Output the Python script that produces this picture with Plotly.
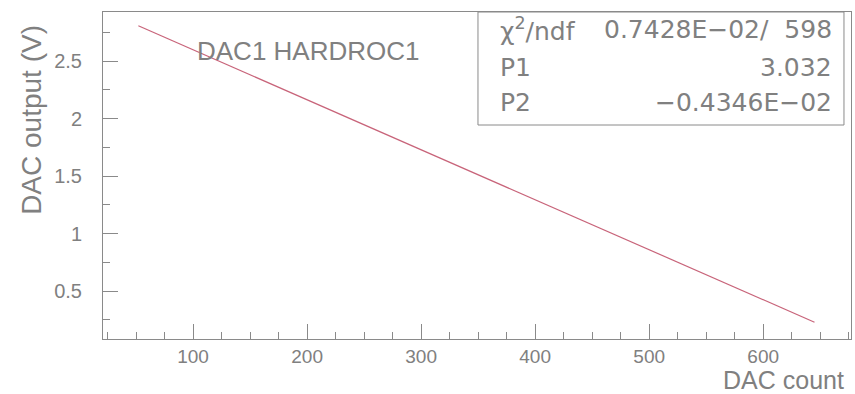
import plotly.graph_objects as go

# Data (DAC1 HARDROC1 transfer curve)
dac_count = [52, 100, 150, 200, 250, 300, 350, 400, 450, 500, 550, 600, 645]
dac_output_v = [2.806, 2.597, 2.380, 2.163, 1.946, 1.728, 1.511, 1.294, 1.076, 0.859, 0.642, 0.424, 0.229]

x_title = "DAC count"
y_title = "DAC output (V)"
plot_label = "DAC1 HARDROC1"
stat_names = ["χ<sup>2</sup>/ndf", "P1", "P2"]
stat_values = ["0.7428E\u221202/\u00a0\u00a0598", "3.032", "\u22120.4346E\u221202"]

TXT = "#808080"
AX = "#8a8a8a"

fig = go.Figure()
fig.add_trace(go.Scatter(x=dac_count, y=dac_output_v, mode="lines",
                         line=dict(color="#c8647a", width=1.2), showlegend=False,
                         hoverinfo="skip"))

fig.update_layout(
    width=855, height=394,
    margin=dict(l=103, r=4, t=12, b=55, autoexpand=False),
    paper_bgcolor="white", plot_bgcolor="white",
    font=dict(family="Liberation Sans, Arial, sans-serif", color=TXT, size=20),
)
fig.update_xaxes(range=[21, 677], dtick=100, tick0=0, ticks="inside", ticklen=15,
                 tickcolor=AX, tickwidth=1, showline=True, linecolor=AX, linewidth=1,
                 mirror=True, showgrid=False, zeroline=False, automargin=False,
                 tickfont=dict(size=19, color=TXT), ticklabelstandoff=0,
                 minor=dict(dtick=25, tick0=0, ticks="inside", ticklen=7, tickcolor=AX, showgrid=False))
fig.update_yaxes(range=[0.083, 2.926], dtick=0.5, tick0=0, ticks="inside", ticklen=15,
                 tickcolor=AX, tickwidth=1, showline=True, linecolor=AX, linewidth=1,
                 mirror=True, showgrid=False, zeroline=False, automargin=False,
                 tickfont=dict(size=20, color=TXT), ticklabelstandoff=16,
                 minor=dict(dtick=0.25, tick0=0, ticks="inside", ticklen=7, tickcolor=AX, showgrid=False))

# axis titles (ROOT style: placed at the end of the axes)
fig.add_annotation(text=y_title, xref="paper", yref="paper", x=-0.095, y=0.67,
                   textangle=-90, showarrow=False, xanchor="center", yanchor="middle",
                   font=dict(size=28, color=TXT))
fig.add_annotation(text=x_title, xref="paper", yref="paper", x=0.992, y=-0.125,
                   showarrow=False, xanchor="right", yanchor="middle", borderpad=0,
                   font=dict(size=25, color=TXT))
fig.add_annotation(text=plot_label, xref="paper", yref="paper", x=0.123, y=0.881,
                   showarrow=False, xanchor="left", yanchor="middle",
                   font=dict(size=26, color=TXT))

# stats box
fig.add_shape(type="rect", xref="paper", yref="paper", x0=0.5013, x1=0.9906, y0=0.6544, y1=1.0,
              line=dict(color=AX, width=1), fillcolor="white", layer="above")
row_y = [0.945, 0.829, 0.722]
for name, val, yy in zip(stat_names, stat_values, row_y):
    fig.add_annotation(text=name, xref="paper", yref="paper", x=0.528, y=yy,
                       showarrow=False, xanchor="left", yanchor="middle",
                       font=dict(family="DejaVu Sans, sans-serif", size=25, color=TXT))
    fig.add_annotation(text=val, xref="paper", yref="paper", x=0.977, y=yy,
                       showarrow=False, xanchor="right", yanchor="middle",
                       font=dict(family="DejaVu Sans, sans-serif", size=25, color=TXT))

fig.write_html("out.html", config={"displayModeBar": False},
               post_script="document.body.style.margin='0';")
